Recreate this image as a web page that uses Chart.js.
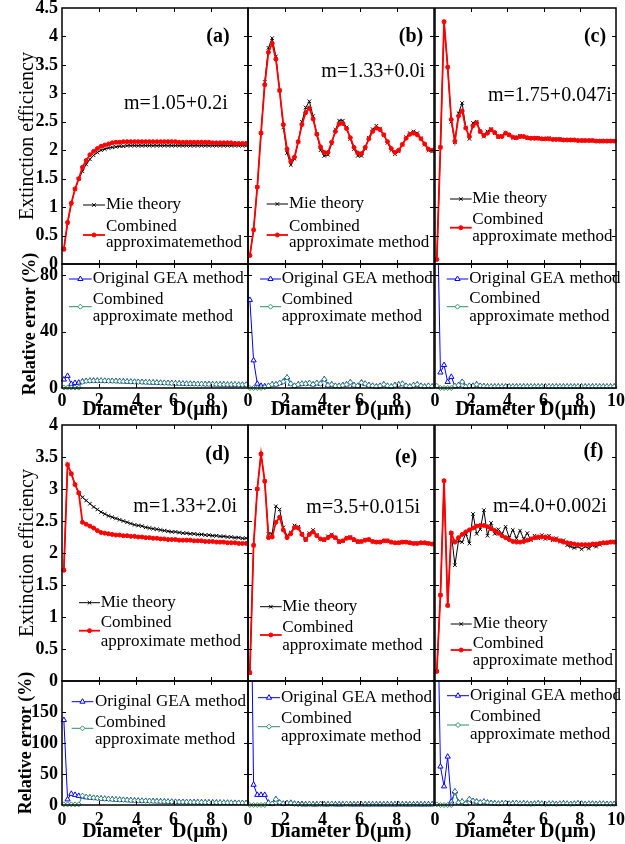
<!DOCTYPE html>
<html>
<head>
<meta charset="utf-8">
<script src="https://cdn.jsdelivr.net/npm/chart.js@4.4.0/dist/chart.umd.min.js"></script>
<style>
  html, body { margin: 0; padding: 0; background: #fff; }
  #fig { position: relative; width: 625px; height: 844px; overflow: hidden; }
  #fig canvas { position: absolute; }
</style>
</head>
<body>
<div id="fig"></div>
<script>
// particle diameters (um)
const diameters = [0.1,0.3,0.5,0.7,0.9,1.1,1.3,1.5,1.7,1.9,2.1,2.3,2.5,2.7,2.9,3.1,3.3,3.5,3.7,3.9,
  4.1,4.3,4.5,4.7,4.9,5.1,5.3,5.5,5.7,5.9,6.1,6.3,6.5,6.7,6.9,7.1,7.3,7.5,7.7,7.9,
  8.1,8.3,8.5,8.7,8.9,9.1,9.3,9.5,9.7,9.9];

// tick labels
const xTicks = [0, 2, 4, 6, 8, 10];
const effTicksTop = [0, 0.5, 1, 1.5, 2, 2.5, 3, 3.5, 4, 4.5];
const effTicksBottom = [0, 0.5, 1, 1.5, 2, 2.5, 3, 3.5, 4];
const errTicksTop = [0, 40, 80];
const errTicksBottom = [0, 50, 100, 150];

// (a) m=1.05+0.2i
const mieA = [0.26,0.72,1.06,1.31,1.49,1.63,1.75,1.84,1.91,1.96, 2.0,2.02,2.04,2.05,2.06,2.07,2.07,2.08,2.08,2.08,
  2.08,2.08,2.08,2.08,2.08,2.08,2.08,2.08,2.08,2.08, 2.08,2.08,2.08,2.08,2.08,2.08,2.08,2.08,2.08,2.08,
  2.08,2.08,2.08,2.08,2.08,2.08,2.08,2.08,2.08,2.08];
const combA = [0.26,0.73,1.07,1.32,1.5,1.7,1.82,1.92,1.98,2.03, 2.07,2.09,2.11,2.13,2.14,2.14,2.15,2.15,2.15,2.15,
  2.15,2.15,2.15,2.15,2.15,2.15,2.15,2.15,2.15,2.15, 2.15,2.14,2.14,2.14,2.14,2.14,2.14,2.14,2.14,2.14,
  2.13,2.13,2.13,2.13,2.13,2.13,2.12,2.12,2.12,2.12];
const geaErrA = [6,8.6,2.9,3.6,3.8,4.6,5.0,5.2,5.2,5.2, 5.2,5.1,5.0,5.0,4.9,4.8,4.7,4.6,4.5,4.4,
  4.3,4.2,4.1,4.0,3.9,3.8,3.7,3.6,3.5,3.4, 3.3,3.2,3.1,3.0,3.0,2.9,2.8,2.8,2.7,2.7,
  2.6,2.6,2.5,2.5,2.4,2.4,2.4,2.3,2.3,2.3];
const combErrA = [0.3,0.3,0.3,0.3,0.3,4.4,4.9,5.1,5.2,5.2, 5.2,5.1,5.0,5.0,4.9,4.8,4.7,4.6,4.5,4.4,
  4.3,4.2,4.1,4.0,3.9,3.8,3.7,3.6,3.5,3.4, 3.3,3.2,3.1,3.0,3.0,2.9,2.8,2.8,2.7,2.7,
  2.6,2.6,2.5,2.5,2.4,2.4,2.4,2.3,2.3,2.3];

// (b) m=1.33+0.0i
const mieB = [0.15,0.6,1.35,2.3,3.2,3.8,3.97,3.65,3.05,2.4, 1.95,1.74,1.85,2.15,2.5,2.75,2.86,2.6,2.28,2.0,
  1.9,1.92,2.12,2.36,2.52,2.52,2.4,2.2,2.02,1.9, 1.9,2.03,2.22,2.37,2.43,2.38,2.27,2.13,2.0,1.93,
  1.98,2.1,2.23,2.3,2.33,2.3,2.21,2.1,2.0,1.98];
const combB = [0.15,0.6,1.35,2.3,3.15,3.72,3.88,3.6,3.05,2.45, 2.02,1.8,1.88,2.15,2.45,2.66,2.74,2.55,2.28,2.06,
  1.96,1.96,2.14,2.33,2.46,2.47,2.38,2.22,2.05,1.95, 1.94,2.05,2.2,2.33,2.39,2.36,2.27,2.15,2.03,1.96,
  2.0,2.1,2.21,2.28,2.3,2.27,2.2,2.11,2.02,2.0];
const geaErrB = [62.5,19.6,3,1.5,1.2,1.5,2.5,2.5,3.5,4.5, 7.4,3,1.5,2.5,3,3,3.5,2.5,3.5,3,
  6.2,2,2.5,1.5,1.5,2,2.5,4,2,1.5, 3.8,3,2,1.5,1,1.5,2.5,1.5,1,2,
  2.5,3,1.5,1,2,2.5,1.5,1,1.5,1];
const combErrB = [0,0,0,0,0.5,1.5,2.5,2.5,3.5,4.5, 7.4,3,1.5,2.5,3,3,3.5,2.5,3.5,3,
  6.2,2,2.5,1.5,1.5,2,2.5,4,2,1.5, 3.8,3,2,1.5,1,1.5,2.5,1.5,1,2,
  2.5,3,1.5,1,2,2.5,1.5,1,1.5,1];

// (c) m=1.75+0.047i
const mieC = [0.08,2.05,4.26,3.46,2.5,2.14,2.65,2.83,2.4,2.2, 2.48,2.5,2.33,2.24,2.33,2.37,2.3,2.23,2.25,2.31,
  2.27,2.22,2.22,2.25,2.24,2.21,2.21,2.22,2.21,2.2, 2.2,2.21,2.19,2.19,2.19,2.18,2.18,2.18,2.18,2.17,
  2.17,2.17,2.17,2.17,2.16,2.16,2.16,2.16,2.16,2.16];
const combC = [0.08,2.05,4.26,3.46,2.54,2.16,2.6,2.69,2.39,2.24, 2.43,2.48,2.33,2.26,2.3,2.36,2.31,2.24,2.24,2.3,
  2.27,2.23,2.22,2.24,2.24,2.22,2.21,2.21,2.21,2.2, 2.2,2.2,2.19,2.19,2.19,2.18,2.18,2.18,2.18,2.17,
  2.17,2.17,2.17,2.17,2.16,2.16,2.16,2.16,2.16,2.16];
const geaErrC = [150,11,16.3,4.3,7.9,1.2,2,4.3,0.7,1.5, 1.5,2.5,1.5,1.2,1,1,1,1,1,1,
  1,1,1,1,1,1,1,1,1,1, 1,1,1,1,1,1,1,1,1,1, 1,1,1,1,1,1,1,1,1,1];
const combErrC = [1.5,0,0,0,0,1.5,2,4.3,1,1.5, 1.5,2.5,1.5,1.2,1,1,1,1,1,1,
  1,1,1,1,1,1,1,1,1,1, 1,1,1,1,1,1,1,1,1,1, 1,1,1,1,1,1,1,1,1,1];

// (d) m=1.33+2.0i
const mieD = [1.73,3.38,3.24,3.07,2.94,2.87,2.82,2.77,2.72,2.68, 2.64,2.61,2.58,2.56,2.54,2.52,2.5,2.48,2.46,2.44,
  2.43,2.42,2.4,2.39,2.38,2.37,2.36,2.35,2.34,2.33, 2.33,2.32,2.31,2.31,2.3,2.3,2.29,2.29,2.28,2.28,
  2.27,2.27,2.26,2.26,2.25,2.25,2.24,2.24,2.23,2.23];
const combD = [1.73,3.38,3.24,3.07,2.94,2.48,2.45,2.42,2.39,2.35, 2.32,2.31,2.3,2.29,2.28,2.28,2.27,2.27,2.26,2.26,
  2.25,2.25,2.24,2.24,2.23,2.23,2.22,2.22,2.21,2.21, 2.21,2.2,2.2,2.2,2.2,2.19,2.19,2.19,2.18,2.18,
  2.18,2.17,2.17,2.17,2.16,2.16,2.16,2.15,2.15,2.15];
const geaErrD = [137,9,18,16.3,14.7,13.6,12.5,12,11.5,11, 10.5,10,9.6,9.2,8.8,8.5,8.2,7.9,7.6,7.3,
  7,6.8,6.6,6.4,6.2,6,5.8,5.6,5.4,5.2, 5,4.9,4.8,4.7,4.6,4.5,4.4,4.3,4.2,4.1,
  4,3.9,3.8,3.7,3.6,3.5,3.4,3.3,3.2,3.1];
const combErrD = [1,1,1,1,1,15,13,12.2,11.6,11, 10.5,10,9.6,9.2,8.8,8.5,8.2,7.9,7.6,7.3,
  7,6.8,6.6,6.4,6.2,6,5.8,5.6,5.4,5.2, 5,4.9,4.8,4.7,4.6,4.5,4.4,4.3,4.2,4.1,
  4,3.9,3.8,3.7,3.6,3.5,3.4,3.3,3.2,3.1];

// (e) m=3.5+0.015i
const mieE = [0.13,2.12,3.0,3.55,3.12,2.3,2.3,2.73,2.68,2.4, 2.27,2.32,2.43,2.41,2.3,2.2,2.31,2.36,2.28,2.21,
  2.2,2.26,2.29,2.24,2.17,2.19,2.24,2.25,2.2,2.17, 2.18,2.21,2.21,2.18,2.17,2.17,2.19,2.19,2.17,2.16,
  2.16,2.17,2.17,2.16,2.15,2.15,2.16,2.16,2.15,2.14];
const combE = [0.13,2.12,3.0,3.55,3.12,2.24,2.25,2.48,2.56,2.36, 2.24,2.3,2.4,2.39,2.29,2.21,2.29,2.33,2.27,2.22,
  2.21,2.24,2.27,2.24,2.18,2.19,2.23,2.24,2.21,2.18, 2.18,2.2,2.21,2.18,2.17,2.17,2.19,2.19,2.17,2.16,
  2.16,2.17,2.17,2.16,2.15,2.15,2.16,2.16,2.15,2.14];
const geaErrE = [500,32.6,16.3,16.3,16.3,3.8,1.6,9.2,3.8,2, 2.7,3.5,2,1.5,1.5,1,1.5,1,1,1.5,
  1,1,1.5,1,1,1,1.5,1,1,1, 1,1,1,1,1,1,1,1,1,1, 1,1,1,1,1,1,1,1,1,1];
const combErrE = [0,0,0,0,0,3,2,9.2,4,2, 3,3,1.5,1,1,1,1.5,1,1,1.5,
  1,1,1.5,1,1,1,1.5,1,1,1, 1,1,1,1,1,1,1,1,1,1, 1,1,1,1,1,1,1,1,1,1];

// (f) m=4.0+0.002i
const mieF = [0.15,1.34,3.13,1.18,2.31,1.81,2.19,2.17,2.3,2.15, 2.61,2.3,2.37,2.67,2.27,2.47,2.3,2.37,2.3,2.41,
  2.24,2.36,2.23,2.35,2.22,2.31,2.2,2.27,2.23,2.28, 2.22,2.27,2.2,2.23,2.18,2.2,2.12,2.1,2.08,2.1,
  2.06,2.1,2.07,2.12,2.1,2.13,2.15,2.16,2.17,2.18];
const combF = [0.15,1.34,3.13,1.18,2.31,2.17,2.24,2.29,2.33,2.36, 2.39,2.42,2.43,2.43,2.41,2.38,2.35,2.31,2.27,2.24,
  2.21,2.18,2.17,2.17,2.18,2.2,2.22,2.24,2.25,2.25, 2.25,2.24,2.22,2.21,2.19,2.17,2.16,2.15,2.14,2.13,
  2.13,2.13,2.13,2.14,2.14,2.15,2.16,2.16,2.17,2.17];
const geaErrF = [400,62,30,78,5.4,21.7,4,5.4,2,9.2, 6.5,5.4,3.8,5.4,3.8,3,2.5,2,2.5,3,
  2,2.5,3,2,2.5,2,1.5,2,2.5,2, 1.5,2,2,1.5,2,2.5,2,1.5,2,2.5,
  2,1.5,2,2,1.5,2,2,1.5,1.5,1.5];
const combErrF = [1,0,0,0,0,21.7,4,5.4,2,9.2, 6.5,5.4,3.8,5.4,3.8,3,2.5,2,2.5,3,
  2,2.5,3,2,2.5,2,1.5,2,2.5,2, 1.5,2,2,1.5,2,2.5,2,1.5,2,2.5,
  2,1.5,2,2,1.5,2,2,1.5,1.5,1.5];

const SERIF = "'Liberation Serif', 'Times New Roman', serif";
Chart.defaults.font.family = SERIF;
Chart.defaults.color = '#000';

const LEGEND_FONT = '17px ' + SERIF;
const colsX = [[62, 248], [248, 434], [435, 616]];
const M = 14;

const pts = vals => diameters.map((d, i) => ({x: d, y: vals[i]}));

function addCanvas(x, y, w, h) {
  const c = document.createElement('canvas');
  c.width = w; c.height = h;
  c.style.left = x + 'px'; c.style.top = y + 'px';
  c.style.width = w + 'px'; c.style.height = h + 'px';
  document.getElementById('fig').appendChild(c);
  return c.getContext('2d');
}

function marker(ctx, ds, x, y) {
  ctx.fillStyle = ds.pointBackgroundColor;
  ctx.strokeStyle = ds.pointBorderColor;
  ctx.lineWidth = ds.pointBorderWidth;
  Chart.helpers.drawPoint(ctx, {pointStyle: ds.pointStyle, radius: ds.pointRadius,
    borderWidth: ds.pointBorderWidth, rotation: 0}, x, y);
}

// frame, inward ticks, panel labels and in-plot legend
function makeDecor(d) {
  return {
    id: 'panelDecor',
    afterDraw(chart) {
      const {ctx, chartArea: a, scales} = chart;
      ctx.save();
      ctx.strokeStyle = '#000';
      ctx.lineWidth = 1;
      ctx.beginPath();
      scales.x.ticks.forEach(t => {
        const px = Math.round(scales.x.getPixelForValue(t.value)) + 0.5;
        if (px < a.left + 2 || px > a.right - 2) return;
        ctx.moveTo(px, a.bottom); ctx.lineTo(px, a.bottom - 4);
        ctx.moveTo(px, a.top); ctx.lineTo(px, a.top + 4);
      });
      scales.y.ticks.forEach(t => {
        const py = Math.round(scales.y.getPixelForValue(t.value)) + 0.5;
        if (py < a.top + 2 || py > a.bottom - 2) return;
        ctx.moveTo(a.left, py); ctx.lineTo(a.left + 4, py);
        ctx.moveTo(a.right, py); ctx.lineTo(a.right - 4, py);
      });
      ctx.stroke();
      ctx.lineWidth = 1.5;
      ctx.strokeRect(a.left, a.top, a.right - a.left, a.bottom - a.top);

      ctx.fillStyle = '#000';
      ctx.textBaseline = 'middle';
      d.texts.forEach(t => {
        ctx.font = t.font;
        ctx.textAlign = t.align;
        ctx.fillText(t.text, a.left + t.dx, a.top + t.dy);
      });
      if (d.yTitle) {
        ctx.save();
        ctx.translate(a.left + d.yTitle.dx, a.top + d.yTitle.dy);
        ctx.rotate(-Math.PI / 2);
        ctx.font = d.yTitle.font;
        ctx.textAlign = 'center';
        ctx.fillText(d.yTitle.text, 0, 0);
        ctx.restore();
      }
      const lg = d.legend;
      lg.entries.forEach(e => {
        const ds = chart.data.datasets[e.ds];
        const y = a.top + e.y;
        ctx.strokeStyle = ds.borderColor;
        ctx.lineWidth = ds.borderWidth;
        ctx.beginPath();
        ctx.moveTo(a.left + lg.x0, y);
        ctx.lineTo(a.left + lg.x1, y);
        ctx.stroke();
        marker(ctx, ds, a.left + (lg.x0 + lg.x1) / 2, y);
        ctx.fillStyle = '#000';
        ctx.font = LEGEND_FONT;
        ctx.textAlign = 'left';
        e.lines.forEach(l => ctx.fillText(l.text, a.left + lg.tx, a.top + l.dy));
      });
      ctx.restore();
    }
  };
}

function makePanel(p) {
  const [left, right] = colsX[p.col];
  const first = p.col === 0;
  const xH = p.lower ? 40 : 0;
  const cx = first ? 0 : left - M;
  const cy = p.top - M;
  const w = right + M - cx;
  const h = (p.bottom - p.top) + M + (p.lower ? xH + 2 : M);
  const ctx = addCanvas(cx, cy, w, h);
  const tickFont = {size: 18, weight: 'bold'};

  return new Chart(ctx, {
    type: 'line',
    data: {datasets: p.datasets},
    options: {
      responsive: false,
      animation: false,
      layout: {padding: {left: first ? 0 : M, top: M, right: M, bottom: p.lower ? 2 : M}},
      plugins: {legend: {display: false}, tooltip: {enabled: false}},
      scales: {
        x: {
          type: 'linear', min: 0, max: 10,
          grid: {display: false, drawTicks: false},
          border: {display: false},
          ticks: {
            display: !!p.lower, padding: p.xTickPad, font: tickFont, color: '#000',
            autoSkip: false, maxRotation: 0,
            callback: v => (p.col < 2 && v === 10) ? '' : String(v)
          },
          title: {
            display: !!p.lower, text: p.xTitle, color: '#000',
            font: {size: 20, weight: 'bold'}, padding: {top: 0, bottom: p.xTitlePad}
          },
          afterBuildTicks: s => { s.ticks = xTicks.map(v => ({value: v})); },
          afterFit: s => { s.height = xH; s.paddingLeft = 0; s.paddingRight = 0; }
        },
        y: {
          type: 'linear', min: 0, max: p.yMax,
          grid: {display: false, drawTicks: false},
          border: {display: false},
          ticks: {display: first, padding: 4, font: tickFont, color: '#000', autoSkip: false,
            callback: v => String(v)},
          title: {
            display: first && !p.lower, text: 'Extinction efficiency', color: '#000',
            font: {size: 20, weight: 'normal'}, padding: {top: 16, bottom: 0}
          },
          afterBuildTicks: s => { s.ticks = p.yTicks.map(v => ({value: v})); },
          afterFit: s => { s.width = first ? left : 0; s.paddingTop = 0; s.paddingBottom = 0; }
        }
      }
    },
    plugins: [makeDecor(p.decor)]
  });
}

const RED = '#ff0000', BLACK = '#000000', BLUE = '#0000ff', GREEN = '#2f8f63';

function effDatasets(comb, mie) {
  return [
    {label: 'Combined approximate method', data: pts(comb), borderColor: RED, borderWidth: 1.8,
      pointStyle: 'circle', pointRadius: 2, pointBackgroundColor: RED, pointBorderColor: RED,
      pointBorderWidth: 1, fill: false, tension: 0, clip: 3},
    {label: 'Mie theory', data: pts(mie), borderColor: BLACK, borderWidth: 1,
      pointStyle: 'crossRot', pointRadius: 2.5, pointBackgroundColor: BLACK, pointBorderColor: BLACK,
      pointBorderWidth: 1, fill: false, tension: 0, clip: 3}
  ];
}
function errDatasets(comb, gea) {
  return [
    {label: 'Combined approximate method', data: pts(comb), borderColor: GREEN, borderWidth: 1,
      pointStyle: 'rectRot', pointRadius: 2.5, pointBackgroundColor: '#ffffff', pointBorderColor: GREEN,
      pointBorderWidth: 1, fill: false, tension: 0, clip: {left: 3, right: 3, top: 0, bottom: 3}},
    {label: 'Original GEA method', data: pts(gea), borderColor: BLUE, borderWidth: 1,
      pointStyle: 'triangle', pointRadius: 3, pointBackgroundColor: '#ffffff', pointBorderColor: BLUE,
      pointBorderWidth: 1, fill: false, tension: 0, clip: {left: 3, right: 3, top: 0, bottom: 3}}
  ];
}

const TAG_FONT = 'bold 20px ' + SERIF;
const M_FONT = '20px ' + SERIF;
const ERR_TITLE_FONT = 'bold 18px ' + SERIF;

function effPanel(col, top, bottom, yMax, yTicks, comb, mie, tag, tagPos, mText, mPos, lg, line2) {
  makePanel({
    col, top, bottom, yMax, yTicks, lower: false,
    datasets: effDatasets(comb, mie),
    decor: {
      texts: [
        {text: tag, font: TAG_FONT, align: 'center', dx: tagPos[0], dy: tagPos[1]},
        {text: mText, font: M_FONT, align: 'right', dx: mPos[0], dy: mPos[1]}
      ],
      legend: {x0: lg[0], x1: lg[1], tx: lg[2], entries: [
        {ds: 1, y: lg[3], lines: [{text: 'Mie theory', dy: lg[3]}]},
        {ds: 0, y: lg[4], lines: [{text: 'Combined', dy: lg[5]}, {text: line2, dy: lg[6]}]}
      ]}
    }
  });
}

function errPanel(col, top, bottom, yMax, yTicks, comb, gea, lg, xTitle, xTickPad, xTitlePad, yTitle) {
  makePanel({
    col, top, bottom, yMax, yTicks, lower: true, xTitle, xTickPad, xTitlePad,
    datasets: errDatasets(comb, gea),
    decor: {
      texts: [],
      yTitle: yTitle ? {text: 'Relative error (%)', font: ERR_TITLE_FONT, dx: yTitle[0], dy: yTitle[1]} : null,
      legend: {x0: lg[0], x1: lg[1], tx: lg[2], entries: [
        {ds: 1, y: lg[3], lines: [{text: 'Original GEA method', dy: lg[3]}]},
        {ds: 0, y: lg[4], lines: [{text: 'Combined', dy: lg[5]}, {text: 'approximate method', dy: lg[6]}]}
      ]}
    }
  });
}

// top half
effPanel(0, 8, 264, 4.5, effTicksTop, combA, mieA, '(a)', [156, 28.5], 'm=1.05+0.2i', [165.7, 95.5],
  [21, 43, 44, 197, 227, 219, 235], 'approximatemethod');
effPanel(1, 8, 264, 4.5, effTicksTop, combB, mieB, '(b)', [163, 28.5], 'm=1.33+0.0i', [177, 63.5],
  [18.7, 40, 41, 196, 227, 218.7, 235], 'approximate method');
effPanel(2, 8, 264, 4.5, effTicksTop, combC, mieC, '(c)', [160, 28.5], 'm=1.75+0.047i', [176.7, 88],
  [15, 36.7, 37.3, 191, 219.7, 212, 229], 'approximate method');
errPanel(0, 264, 388, 88, errTicksTop, combErrA, geaErrA, [7, 29.7, 30.7, 15, 42.7, 36, 52.7],
  'Diameter  D(\u03bcm)', 3, 6, [-32, 60]);
errPanel(1, 264, 388, 88, errTicksTop, combErrB, geaErrB, [12, 33, 33.7, 15, 42.7, 36, 52.7],
  'Diameter D(\u03bcm)', 3, 6, null);
errPanel(2, 264, 388, 88, errTicksTop, combErrC, geaErrC, [11.7, 33.3, 34.3, 15, 42.7, 34.3, 52.7],
  'Diameter D(\u03bcm)', 3, 6, null);

// bottom half
effPanel(0, 425, 681, 4, effTicksBottom, combD, mieD, '(d)', [155.5, 30], 'm=1.33+2.0i', [175, 81.5],
  [17, 38, 38.7, 177.7, 205.7, 198, 216.7], 'approximate method');
effPanel(1, 425, 681, 4, effTicksBottom, combE, mieE, '(e)', [158, 32.5], 'm=3.5+0.015i', [172, 83],
  [12, 33.7, 34.3, 181.7, 210, 202.3, 220.7], 'approximate method');
effPanel(2, 425, 681, 4, effTicksBottom, combF, mieF, '(f)', [158.5, 26.5], 'm=4.0+0.002i', [171.7, 81.5],
  [15.7, 36.7, 37.7, 199, 225, 219, 235.7], 'approximate method');
errPanel(0, 681, 805, 200, errTicksBottom, combErrD, geaErrD, [9.7, 31.3, 33, 20.7, 47.3, 41.7, 59],
  'Diameter  D(\u03bcm)', 5, 1, [-36, 62]);
errPanel(1, 681, 805, 200, errTicksBottom, combErrE, geaErrE, [10, 32, 33, 16.7, 45.7, 37.3, 55.7],
  'Diameter D(\u03bcm)', 5, 1, null);
errPanel(2, 681, 805, 200, errTicksBottom, combErrF, geaErrF, [12, 34, 35, 14.7, 44, 35.7, 54],
  'Diameter D(\u03bcm)', 5, 1, null);
</script>
</body>
</html>
